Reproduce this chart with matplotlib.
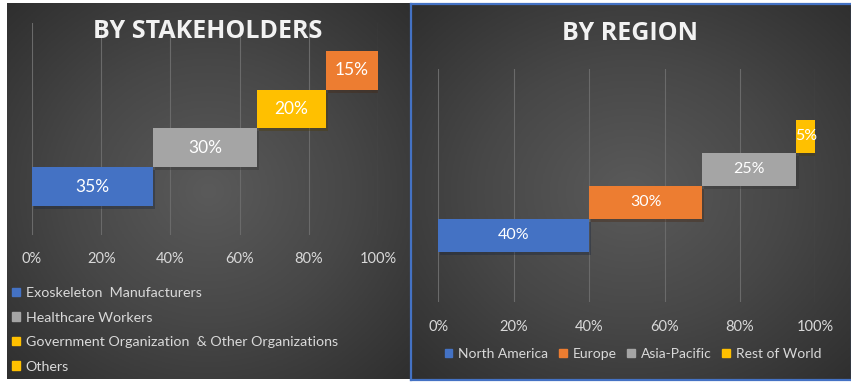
import numpy as np
import matplotlib
matplotlib.use('Agg')
import matplotlib.pyplot as plt
from matplotlib.patches import Patch
from matplotlib.colors import LinearSegmentedColormap
import matplotlib.patheffects as pe

# data
stake_labels = ['Exoskeleton  Manufacturers', 'Healthcare Workers',
                'Government Organization  & Other Organizations', 'Others']
stake_vals = [35, 30, 20, 15]
stake_colors = ['#4472C4', '#A5A5A5', '#FFC000', '#ED7D31']
stake_legend_colors = ['#4472C4', '#A5A5A5', '#FFC000', '#FFC000']

region_labels = ['North America', 'Europe', 'Asia-Pacific', 'Rest of World']
region_vals = [40, 30, 25, 5]
region_colors = ['#4472C4', '#ED7D31', '#A5A5A5', '#FFC000']

xticks = [0, 20, 40, 60, 80, 100]

W, H = 851, 383
fig = plt.figure(figsize=(W / 100, H / 100), dpi=100, facecolor='white')

def box(x0, y0, x1, y1):
    # pixel box (top-left origin) -> figure fraction rect
    return [x0 / W, 1 - y1 / H, (x1 - x0) / W, (y1 - y0) / H]

bg_cmap = LinearSegmentedColormap.from_list('bg', ['#5a5a5a', '#474747', '#2f2f2f'])

def panel_bg(rect, edge=None):
    bg = fig.add_axes(rect, zorder=0)
    yy, xx = np.mgrid[-1:1:200j, -1:1:200j]
    r = np.sqrt(xx ** 2 + yy ** 2) / np.sqrt(2)
    bg.imshow(r, cmap=bg_cmap, aspect='auto', extent=(0, 1, 0, 1), vmin=0, vmax=1)
    bg.set_xticks([])
    bg.set_yticks([])
    for s in bg.spines.values():
        s.set_visible(edge is not None)
        if edge:
            s.set_color(edge)
            s.set_linewidth(1.6)
    return bg

panel_bg(box(7, 3, 410, 379))
panel_bg(box(411, 4, 852, 380), edge='#4472C4')

label_font = 'Lato'
title_font = 'Open Sans'

def step_chart(rect, vals, colors, ylim, title, title_xy, tick_pad, label_size):
    ax = fig.add_axes(rect, zorder=2)
    ax.set_facecolor('none')
    lefts = np.concatenate([[0], np.cumsum(vals)[:-1]]) / 100
    widths = np.array(vals) / 100
    ys = np.arange(len(vals))
    bars = ax.barh(ys, widths, left=lefts, height=1.0, color=colors, zorder=3)
    for b in bars:
        b.set_path_effects([pe.SimplePatchShadow(offset=(1.5, -2), alpha=0.35), pe.Normal()])
    for y, l, w, v in zip(ys, lefts, widths, vals):
        ax.text(l + w / 2, y, f'{v}%', ha='center', va='center', color='white',
                fontsize=label_size, family=label_font, zorder=4)
    ax.set_xlim(0, 1)
    ax.set_ylim(*ylim)
    ax.set_xticks(np.array(xticks) / 100)
    ax.set_xticklabels([f'{t}%' for t in xticks], family=label_font, fontsize=10.5, color='#D9D9D9')
    ax.set_yticks([])
    ax.tick_params(axis='x', length=0, pad=tick_pad)
    ax.grid(axis='x', color='#6a6a6a', lw=0.8, zorder=1)
    for s in ax.spines.values():
        s.set_visible(False)
    fig.text(title_xy[0] / W, 1 - title_xy[1] / H, title, ha='center', va='center',
             color='#F2F2F2', fontsize=18, fontweight='bold', family=title_font, zorder=5)
    return ax

step_chart(box(32, 23, 378, 235), stake_vals, stake_colors, (-1.254, 4.228),
           'BY STAKEHOLDERS', (208, 32), 12, 12.5)
step_chart(box(438.3, 69, 815.3, 302), region_vals, region_colors, (-2.015, 5.045),
           'BY REGION', (630, 33), 13, 11.5)

# legends
h1 = [Patch(color=c) for c in stake_legend_colors]
fig.legend(h1, stake_labels, loc='upper left', bbox_to_anchor=(12 / W, 1 - 287 / H),
           frameon=False, ncol=1, prop={'family': label_font, 'size': 10.3},
           labelcolor='#D9D9D9', handlelength=0.55, handleheight=0.55,
           handletextpad=0.4, labelspacing=0.88, borderaxespad=0, borderpad=0)

h2 = [Patch(color=c) for c in region_colors]
fig.legend(h2, region_labels, loc='center', bbox_to_anchor=(633 / W, 1 - 354 / H),
           frameon=False, ncol=4, prop={'family': label_font, 'size': 10},
           labelcolor='#D9D9D9', handlelength=0.55, handleheight=0.55,
           handletextpad=0.4, columnspacing=0.8, borderaxespad=0, borderpad=0)

fig.savefig('out.png', dpi=100, facecolor='white')
